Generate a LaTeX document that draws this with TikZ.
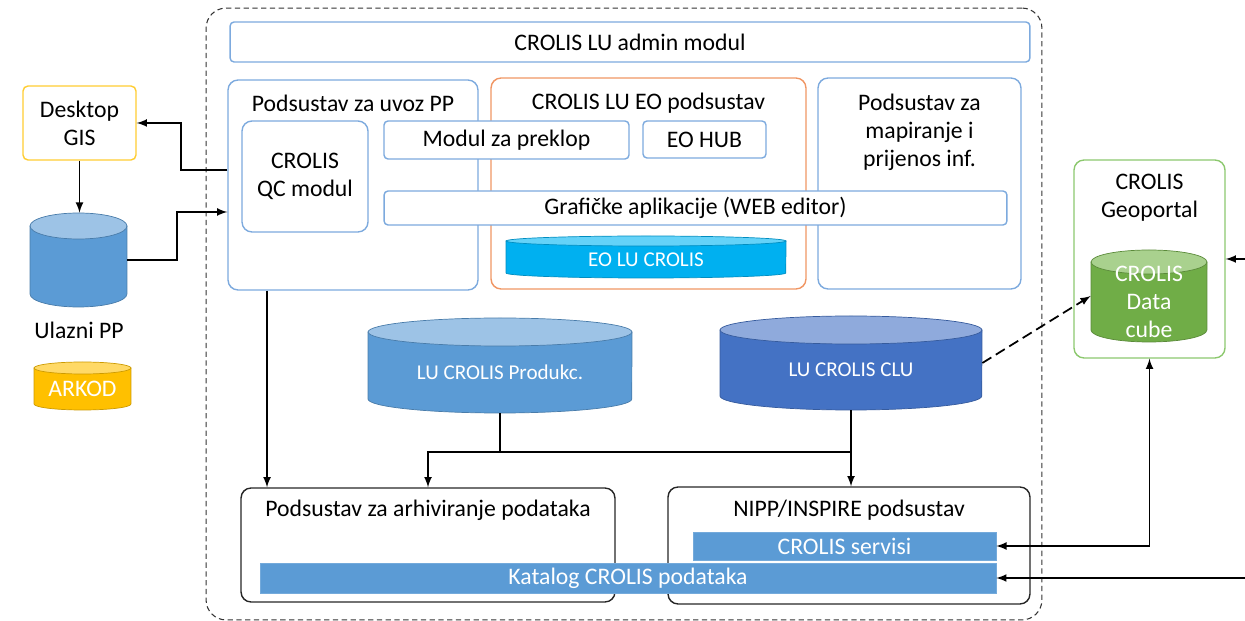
\documentclass[tikz,border=0pt]{standalone}
\usepackage{fontspec}
\setmainfont{Carlito}
\usepackage{xcolor}

\definecolor{lineblue}{RGB}{125,170,222}
\definecolor{lineorange}{RGB}{240,150,100}
\definecolor{geogreen}{RGB}{140,200,110}
\definecolor{gisyellow}{RGB}{255,205,50}
\definecolor{dbblue}{RGB}{91,155,213}
\definecolor{dbbluetop}{RGB}{157,195,230}
\definecolor{clublue}{RGB}{68,114,196}
\definecolor{clutop}{RGB}{143,170,220}
\definecolor{eocyan}{RGB}{0,176,240}
\definecolor{eocyantop}{RGB}{100,210,248}
\definecolor{arkodyellow}{RGB}{255,192,0}
\definecolor{arkodtop}{RGB}{255,217,102}
\definecolor{cubegreen}{RGB}{112,173,71}
\definecolor{cubetop}{RGB}{169,209,142}

\newcommand{\dbfont}{\fontsize{12}{14}\selectfont}
% name, x, y, width, height, ellipse height, body, top, text
\newcommand{\dbcyl}[9]{%
  \pgfmathsetmacro{\cylL}{#2-#4/2}
  \pgfmathsetmacro{\cylR}{#2+#4/2}
  \pgfmathsetmacro{\cylT}{#3-#5/2+#6}
  \pgfmathsetmacro{\cylB}{#3+#5/2-#6}
  \pgfmathsetmacro{\cylM}{#3+#6/2}
  \filldraw[fill=#7, draw=#7!80!black, line width=0.4pt] (\cylL,\cylT) -- (\cylL,\cylB)
    arc[start angle=180, end angle=360, x radius={#4*0.01cm}, y radius={#6*0.02cm}] -- (\cylR,\cylT) -- cycle;
  \filldraw[fill=#8, draw=#7!80!black, line width=0.4pt] (#2,\cylT) ellipse[x radius={#4*0.01cm}, y radius={#6*0.02cm}];
  \node (#1) at (#2,#3) [minimum width={#4*0.02cm}, minimum height={#5*0.02cm}, inner sep=0pt] {};
  \node (#1text) at (#2,\cylM) [inner sep=0pt, text=white, align=center] {#9};
}

\begin{document}
\begin{tikzpicture}[x=0.02cm, y=-0.02cm, >=latex,
    every node/.style={font=\fontsize{13.5}{16}\selectfont},
    bluebox/.style={draw=lineblue, fill=white, rounded corners=0.2cm, line width=0.8pt, align=center},
    smallbox/.style={draw=lineblue, fill=white, rounded corners=0.08cm, line width=0.8pt, inner sep=0pt},
    subbox/.style={draw=black!85, rounded corners=0.2cm, line width=0.8pt},
    bar/.style={draw=dbblue!85!white, fill=dbblue, text=white, inner sep=0pt},
    conn/.style={line width=1pt}]
    \useasboundingbox (0,0) rectangle (1245,621);

    % outer frame
    \node (frame) at (624,314) [draw=black!80, line width=0.6pt, dash pattern=on 3pt off 2pt, rounded corners=0.4cm, minimum width=16.72cm, minimum height=12.24cm] {};

    \node (admin) at (630,42) [bluebox, rounded corners=0.08cm, minimum width=16cm, minimum height=0.8cm] {CROLIS LU admin modul};

    \node (uvoz) at (353,185) [bluebox, minimum width=5cm, minimum height=4.2cm] {};
    \node (uvoztitle) at (353,103) {Podsustav za uvoz PP};
    \node (qc) at (305,176.5) [bluebox, minimum width=2.52cm, minimum height=2.22cm] {CROLIS\\QC modul};

    \node (eo) at (648.5,183.5) [draw=lineorange, rounded corners=0.2cm, line width=0.8pt, minimum width=6.3cm, minimum height=4.22cm] {};
    \node (eotitle) at (648.5,103) {CROLIS LU EO podsustav};

    \node (mapiranje) at (919.5,183.5) [bluebox, minimum width=4.06cm, minimum height=4.22cm] {};
    \node (maptitle) at (919.5,132) [align=center] {Podsustav za\\mapiranje i\\prijenos inf.};

    \node (preklop) at (506.5,140) [smallbox, minimum width=4.9cm, minimum height=0.76cm] {Modul za preklop};
    \node (eohub) at (704.5,139.5) [smallbox, minimum width=2.46cm, minimum height=0.74cm] {EO HUB};
    \node (graficke) at (695.5,208) [smallbox, minimum width=12.46cm, minimum height=0.68cm] {Grafičke aplikacije (WEB editor)};
    \dbcyl{eodb}{646}{257}{280}{42}{5}{eocyan}{eocyantop}{\dbfont EO LU CROLIS}

    % left side
    \node (desktop) at (79.5,123) [draw=gisyellow, fill=white, rounded corners=0.1cm, line width=0.8pt, minimum width=2.26cm, minimum height=1.48cm, align=center] {Desktop\\GIS};
    \dbcyl{ulazni}{78.5}{260}{97}{94}{13}{dbblue}{dbbluetop}{}
    \node (ulaznilabel) at (79,330) {Ulazni PP};
    \dbcyl{arkod}{82.5}{386}{97}{48}{6}{arkodyellow}{arkodtop}{ARKOD}

    % databases
    \dbcyl{produkc}{500}{365.5}{264}{95}{14}{dbblue}{dbbluetop}{\dbfont LU CROLIS Produkc.}
    \dbcyl{clu}{851}{363}{262}{94}{14}{clublue}{clutop}{\dbfont LU CROLIS CLU}

    % bottom subsystems
    \node (arhiv) at (428,545) [subbox, minimum width=7.48cm, minimum height=2.28cm] {};
    \node (arhivtitle) at (428,510) {Podsustav za arhiviranje podataka};
    \node (nipp) at (849,545.5) [subbox, minimum width=7.24cm, minimum height=2.34cm] {};
    \node (nipptitle) at (849,510) {NIPP/INSPIRE podsustav};
    \node (servisi) at (844.5,546) [bar, minimum width=6.06cm, minimum height=0.56cm] {CROLIS servisi};
    \node (katalog) at (628,578) [bar, minimum width=14.72cm, minimum height=0.6cm] {Katalog CROLIS podataka};

    % geoportal
    \node (geoportal) at (1149.5,259) [draw=geogreen, rounded corners=0.2cm, line width=0.8pt, minimum width=3.02cm, minimum height=3.96cm] {};
    \node (geotitle) at (1149.5,197.5) [align=center] {CROLIS\\Geoportal};
    \dbcyl{cube}{1149}{296}{116}{92}{12}{cubegreen}{cubetop}{CROLIS\\Data\\cube}

    % connectors
    \draw[->, conn] ([yshift=0.3cm]uvoz.west) -- ++(-46,0) |- (desktop.east);
    \draw[->, conn] (desktop.south) -- (desktop.south |- ulazni.north);
    \draw[->, conn] (ulazni.east) -- ++(50,0) |- ([yshift=-0.54cm]uvoz.west);
    \draw[->, conn] ([xshift=-1.72cm]uvoz.south) -- ([xshift=-1.72cm]uvoz.south |- arhiv.north);
    \draw[->, conn] (produkc.south) -- ++(0,39) coordinate (split) -| (arhiv.north);
    \draw[conn] (split) -- (split -| clu.south);
    \draw[->, conn] (clu.south) -- (clu.south |- nipp.north);
    \draw[->, conn, dash pattern=on 6pt off 3pt] (clu.east) -- (cube.west);
    \coordinate (ingeo) at (1245,259);
    \draw[->, conn] (ingeo) -- (geoportal.east);
    \draw[<->, conn] (servisi.east) -| (geoportal.south);
    \coordinate (inkat) at (1245,578);
    \draw[->, conn] (inkat) -- (katalog.east);
\end{tikzpicture}
\end{document}
